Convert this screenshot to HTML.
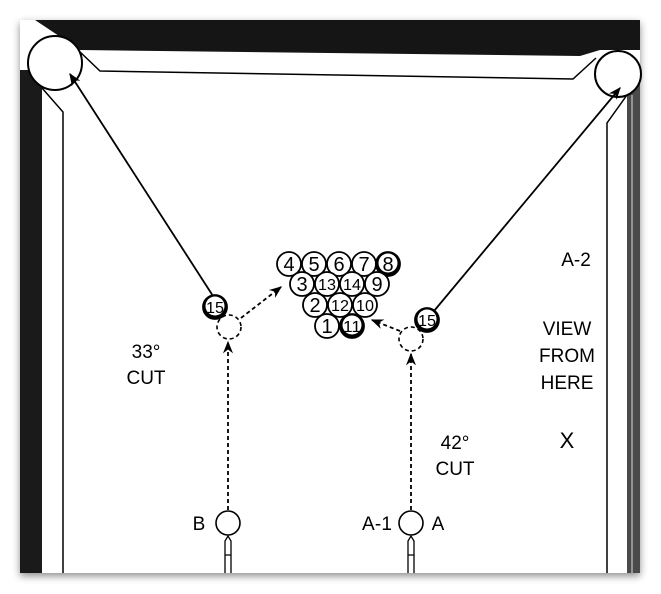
<!DOCTYPE html>
<html><head><meta charset="utf-8"><style>
html,body{margin:0;padding:0;background:#fff;}
#wrap{position:relative;width:661px;height:594px;overflow:hidden;}
svg{position:absolute;left:0;top:0;}
text{font-family:"Liberation Sans",Arial,sans-serif;fill:#000;}
</style></head><body>
<div id="wrap">
<svg width="661" height="594" viewBox="0 0 661 594">
<defs>
<filter id="sh" x="-5%" y="-5%" width="110%" height="110%"><feDropShadow dx="0" dy="3" stdDeviation="4" flood-opacity="0.45"/></filter>
<marker id="ah" viewBox="0 0 10 10" refX="9" refY="5" markerWidth="7" markerHeight="7" orient="auto"><path d="M0,1 L10,5 L0,9 L3,5 z" fill="#000"/></marker>
</defs>
<rect x="20" y="20" width="620" height="553" fill="#fff" filter="url(#sh)"/>
<path d="M35,20 L640,20 L640,50 L600,50 L580,56 L80,50 Z" fill="#151515"/>
<rect x="20" y="70" width="22" height="503" fill="#1a1a1a"/>
<rect x="627" y="70" width="13" height="503" fill="#4a4a4a"/>
<line x1="632" y1="95" x2="632" y2="573" stroke="#ddd" stroke-width="1"/>
<polyline points="78,50 100,71 573,79 596,58" fill="none" stroke="#000" stroke-width="1.5"/>
<polyline points="42,88 63,112 63,573" fill="none" stroke="#000" stroke-width="1.5"/>
<polyline points="627,95 607,123 607,573" fill="none" stroke="#000" stroke-width="1.5"/>
<circle cx="55" cy="63" r="27" fill="#fff" stroke="#000" stroke-width="2"/>
<circle cx="618" cy="74" r="23" fill="#fff" stroke="#000" stroke-width="2"/>
<line x1="213" y1="296" x2="70" y2="74" stroke="#000" stroke-width="1.8" marker-end="url(#ah)"/>
<line x1="434" y1="311" x2="620" y2="88" stroke="#000" stroke-width="1.8" marker-end="url(#ah)"/>
<line x1="241" y1="318" x2="281" y2="287" stroke="#000" stroke-width="1.8" stroke-dasharray="4,3" marker-end="url(#ah)"/>
<line x1="400" y1="331" x2="372" y2="320" stroke="#000" stroke-width="1.8" stroke-dasharray="4,3" marker-end="url(#ah)"/>
<line x1="228" y1="510" x2="228" y2="342" stroke="#000" stroke-width="1.8" stroke-dasharray="4,3" marker-end="url(#ah)"/>
<line x1="411" y1="510" x2="411" y2="354" stroke="#000" stroke-width="1.8" stroke-dasharray="4,3" marker-end="url(#ah)"/>
<circle cx="229" cy="327" r="12" fill="none" stroke="#000" stroke-width="1.6" stroke-dasharray="4,3"/>
<circle cx="411" cy="339" r="12" fill="none" stroke="#000" stroke-width="1.6" stroke-dasharray="4,3"/>
<circle cx="228" cy="523" r="12" fill="#fff" stroke="#000" stroke-width="1.6"/>
<circle cx="411" cy="523" r="12" fill="#fff" stroke="#000" stroke-width="1.6"/>
<path d="M225,573 L225,541 L228,536 L231,541 L231,573 M225,555 L231,555" fill="#fff" stroke="#000" stroke-width="1.3"/>
<path d="M408,573 L408,541 L411,536 L414,541 L414,573 M408,555 L414,555" fill="#fff" stroke="#000" stroke-width="1.3"/>
<g id="balls"></g>
<g font-size="19">
<text x="199" y="530" text-anchor="middle">B</text>
<text x="377" y="530" text-anchor="middle" textLength="30">A-1</text>
<text x="438" y="530" text-anchor="middle">A</text>
<text x="146" y="358" text-anchor="middle">33°</text>
<text x="146" y="384" text-anchor="middle">CUT</text>
<text x="455" y="449" text-anchor="middle">42°</text>
<text x="455" y="475" text-anchor="middle">CUT</text>
<text x="576" y="266" text-anchor="middle">A-2</text>
<text x="567" y="335" text-anchor="middle">VIEW</text>
<text x="567" y="362" text-anchor="middle">FROM</text>
<text x="567" y="389" text-anchor="middle">HERE</text>
<text x="567" y="448" text-anchor="middle" font-size="22">X</text>
</g>
</svg>
</div>
<script>
const ballNums = ["4","5","6","7","8","3","13","14","9","2","12","10","1","11","15","15"];
const ballX = [289,314,339,364,388,302,327,352,377,315,340,365,327,352,215,427];
const ballY = [264,264,264,264,264,284,284,284,284,305,305,305,326,326,307,320];
const ballStyle = ["p","p","p","p","b","p","p","p","p","p","p","p","p","s","s","s"];
const g = document.getElementById('balls');
const NS = 'http://www.w3.org/2000/svg';
for (let i = 0; i < ballNums.length; i++) {
  const grp = document.createElementNS(NS, 'g');
  
  
  const c = document.createElementNS(NS, 'circle');
  c.setAttribute('cx', ballX[i]); c.setAttribute('cy', ballY[i]); c.setAttribute('r', 12);
  c.setAttribute('fill', ballStyle[i] === 'p' ? '#fff' : '#000');
  c.setAttribute('stroke', '#000'); c.setAttribute('stroke-width', 1.8);
  grp.appendChild(c);
  if (ballStyle[i] !== 'p') {
    const ic = document.createElementNS(NS, 'circle');
    ic.setAttribute('cx', ballX[i]); ic.setAttribute('cy', ballY[i] - 1); ic.setAttribute('r', 9.5);
    ic.setAttribute('fill', '#fff');
    grp.appendChild(ic);
  }
  const t = document.createElementNS(NS, 'text');
  t.setAttribute('x', ballX[i]); t.setAttribute('y', ballY[i] + 7);
  t.setAttribute('text-anchor', 'middle');
  t.setAttribute('font-size', ballNums[i].length > 1 ? 16 : 20);
  if (ballNums[i].length > 1) { t.setAttribute('textLength', '18'); t.setAttribute('lengthAdjust', 'spacingAndGlyphs'); t.setAttribute('y', ballY[i] + 6); }
  t.textContent = ballNums[i];
  grp.appendChild(t);
  g.appendChild(grp);
}
</script>
</body></html>
